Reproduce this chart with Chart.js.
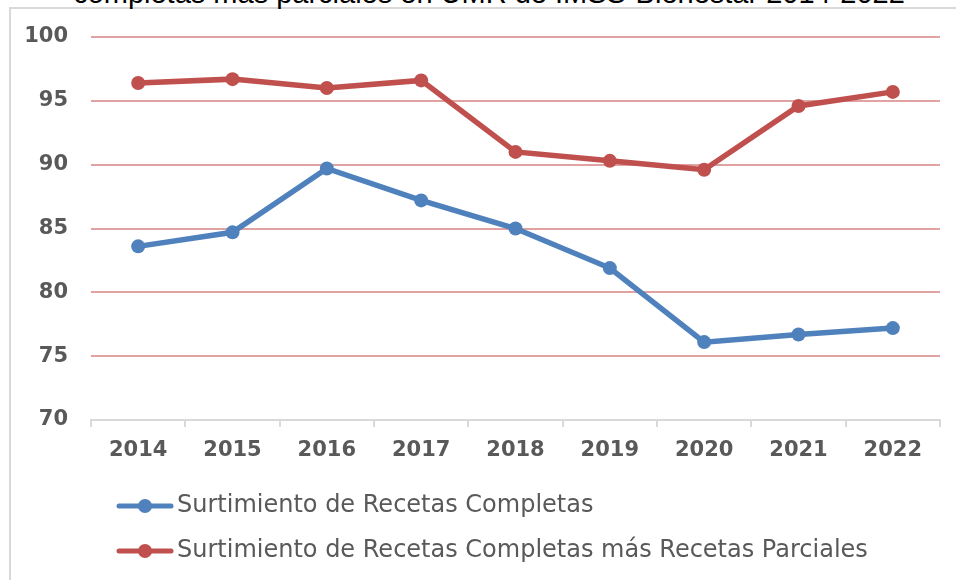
<!DOCTYPE html>
<html>
<head>
<meta charset="utf-8">
<script src="https://cdn.jsdelivr.net/npm/chart.js@4.4.1/dist/chart.umd.min.js"></script>
<style>
  body { margin: 0; background: #fff; }
  #wrap { position: relative; width: 956px; height: 580px; overflow: hidden; }
  #frame { position: absolute; left: 9px; top: 7px; width: 1000px; height: 1000px; border: 2px solid #d9d9d9; }
  #title { position: absolute; left: 0; top: -21px; width: 978px; text-align: center; line-height: 29px;
           font-family: 'Liberation Sans', Arial, sans-serif; font-size: 29px; color: #000; white-space: nowrap; }
  canvas { position: absolute; left: 0; top: 0; }
</style>
</head>
<body>
<div id="wrap">
  <div id="frame"></div>
  <div id="title">completas más parciales en UMR de IMSS-Bienestar 2014-2022</div>
  <canvas id="myChart" width="956" height="580"></canvas>
</div>
<script>

var years = ['2014', '2015', '2016', '2017', '2018', '2019', '2020', '2021', '2022'];
var recetasCompletas = [83.6, 84.7, 89.7, 87.2, 85.0, 81.9, 76.1, 76.7, 77.2];
var completasMasParciales = [96.4, 96.7, 96.0, 96.6, 91.0, 90.3, 89.6, 94.6, 95.7];

var blue = '#4F81BD';
var red = '#C0504D';
var tickColor = '#595959';

// little line+dot marker for the legend
function legendMarker(color) {
    var c = document.createElement('canvas');
    c.width = 162;
    c.height = 20;
    var ctx = c.getContext('2d');
    ctx.strokeStyle = color;
    ctx.lineWidth = 5;
    ctx.lineCap = 'round';
    ctx.beginPath();
    ctx.moveTo(107, 10);
    ctx.lineTo(159, 10);
    ctx.stroke();
    ctx.fillStyle = color;
    ctx.beginPath();
    ctx.arc(133, 10, 7, 0, Math.PI * 2);
    ctx.fill();
    return c;
}

var chartId = document.getElementById('myChart').getContext('2d');

var myChart = new Chart(chartId, {
    type: 'line',
    data: {
        labels: years,
        datasets: [{
            label: 'Surtimiento de Recetas Completas',
            data: recetasCompletas,
            borderColor: blue,
            backgroundColor: blue,
            borderWidth: 5.5,
            pointRadius: 7,
            pointHoverRadius: 7,
            pointBorderWidth: 0,
            tension: 0
        }, {
            label: 'Surtimiento de Recetas Completas más Recetas Parciales',
            data: completasMasParciales,
            borderColor: red,
            backgroundColor: red,
            borderWidth: 5.5,
            pointRadius: 7,
            pointHoverRadius: 7,
            pointBorderWidth: 0,
            tension: 0
        }]
    },
    options: {
        responsive: false,
        animation: false,
        layout: {
            padding: { top: 37, right: 16, bottom: 7, left: 0 }
        },
        scales: {
            x: {
                offset: true,
                afterFit: function (scale) { scale.height = 53; },
                grid: {
                    offset: true,
                    drawOnChartArea: false,
                    color: '#d9d9d9',
                    lineWidth: 2,
                    tickLength: 7
                },
                border: { display: true, color: '#d9d9d9', width: 2 },
                ticks: {
                    color: tickColor,
                    padding: 11,
                    font: { family: "'DejaVu Sans', sans-serif", size: 21, weight: 'bold' }
                }
            },
            y: {
                min: 70,
                max: 100,
                afterFit: function (scale) { scale.width = 91; },
                grid: {
                    drawTicks: false,
                    lineWidth: 2,
                    color: function (ctx) {
                        return ctx.tick && ctx.tick.value === 70 ? 'rgba(0,0,0,0)' : '#E0A3A1';
                    }
                },
                border: { display: false },
                ticks: {
                    stepSize: 5,
                    color: tickColor,
                    padding: 23,
                    font: { family: "'DejaVu Sans', sans-serif", size: 21, weight: 'bold' }
                }
            }
        },
        plugins: {
            title: { display: false },
            tooltip: { enabled: false },
            legend: {
                display: true,
                position: 'bottom',
                align: 'start',
                labels: {
                    usePointStyle: true,
                    pointStyleWidth: 144,
                    padding: 21,
                    color: tickColor,
                    font: { family: "'DejaVu Sans', sans-serif", size: 24 },
                    generateLabels: function (chart) {
                        var items = Chart.defaults.plugins.legend.labels.generateLabels(chart);
                        items.forEach(function (item, i) {
                            item.pointStyle = legendMarker(i === 0 ? blue : red);
                        });
                        return items;
                    }
                }
            }
        }
    }
});
</script>
</body>
</html>
